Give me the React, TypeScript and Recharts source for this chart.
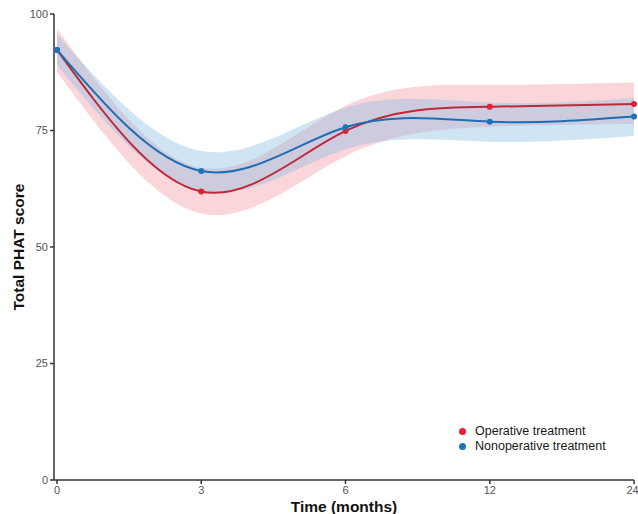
import React from 'react';
import { ComposedChart, Line, Area, XAxis, YAxis } from 'recharts';

const months = ['0', '3', '6', '12', '24'];
const operative = [92.3, 61.9, 74.9, 80.1, 80.7];
const operativeLow = [87.6, 57.2, 69.5, 75.8, 76.4];
const operativeHigh = [96.8, 67.0, 80.3, 84.8, 85.3];
const nonoperative = [92.3, 66.3, 75.7, 76.9, 78.0];
const nonoperativeLow = [89.0, 62.0, 71.0, 72.6, 73.8];
const nonoperativeHigh = [95.6, 70.6, 79.9, 81.0, 82.0];
const legendLabels = ['Operative treatment', 'Nonoperative treatment'];

const data = months.map((m, i) => ({
  idx: i,
  month: m,
  op: operative[i],
  opBand: [operativeLow[i], operativeHigh[i]],
  non: nonoperative[i],
  nonBand: [nonoperativeLow[i], nonoperativeHigh[i]],
}));

const RED_LINE = '#c0273a';
const RED_DOT = '#e02230';
const BLUE_LINE = '#1f6db3';
const BLUE_DOT = '#1b74bd';
const FONT = 'Arial, "Liberation Sans", sans-serif';

const LegendBox = () => (
  <div style={{ position: 'absolute', left: 459, top: 424, fontFamily: FONT, fontSize: 12.5, color: '#1a1a1a', lineHeight: '15px' }}>
    {[
      { label: legendLabels[0], color: RED_DOT },
      { label: legendLabels[1], color: BLUE_DOT },
    ].map((it) => (
      <div key={it.label} style={{ display: 'flex', alignItems: 'center', whiteSpace: 'nowrap' }}>
        <span style={{ display: 'inline-block', width: 7, height: 7, borderRadius: 4, background: it.color, marginRight: 9 }} />
        <span>{it.label}</span>
      </div>
    ))}
  </div>
);

export default function App() {
  return (
    <div style={{ position: 'absolute', left: 0, top: 0, width: 638, height: 514, background: '#fff', overflow: 'hidden' }}>
      <ComposedChart width={638} height={514} data={data} margin={{ top: 14, right: 4, bottom: 0, left: 0 }}>
        <XAxis
          dataKey="idx"
          type="number"
          domain={[0, 4]}
          ticks={[0, 1, 2, 3, 4]}
          tickFormatter={(v: number) => months[v]}
          padding={{ left: 3, right: 0 }}
          height={34}
          stroke="#333"
          strokeWidth={1.5}
          tickSize={4}
          tick={{ fill: '#555', fontSize: 11, fontFamily: FONT }}
          label={{ value: 'Time (months)', position: 'insideBottom', offset: 2, fill: '#111', fontSize: 15.5, fontWeight: 'bold', fontFamily: FONT }}
        />
        <YAxis
          type="number"
          domain={[0, 100]}
          ticks={[0, 25, 50, 75, 100]}
          width={54}
          stroke="#333"
          strokeWidth={1.5}
          tickSize={4}
          tick={{ fill: '#555', fontSize: 11, fontFamily: FONT }}
          label={{ value: 'Total PHAT score', angle: -90, position: 'insideLeft', offset: 18, style: { textAnchor: 'middle' }, fill: '#111', fontSize: 15.5, fontWeight: 'bold', fontFamily: FONT }}
        />
        <Area type="natural" dataKey="opBand" stroke="none" fill="#f29aa4" fillOpacity={0.42} isAnimationActive={false} />
        <Area type="natural" dataKey="nonBand" stroke="none" fill="#8fc0e4" fillOpacity={0.42} isAnimationActive={false} />
        <Line type="natural" dataKey="op" stroke={RED_LINE} strokeWidth={2} dot={{ r: 3, fill: RED_DOT, stroke: RED_DOT, strokeWidth: 0 }} isAnimationActive={false} />
        <Line type="natural" dataKey="non" stroke={BLUE_LINE} strokeWidth={2} dot={{ r: 3, fill: BLUE_DOT, stroke: BLUE_DOT, strokeWidth: 0 }} isAnimationActive={false} />
      </ComposedChart>
      <LegendBox />
    </div>
  );
}
